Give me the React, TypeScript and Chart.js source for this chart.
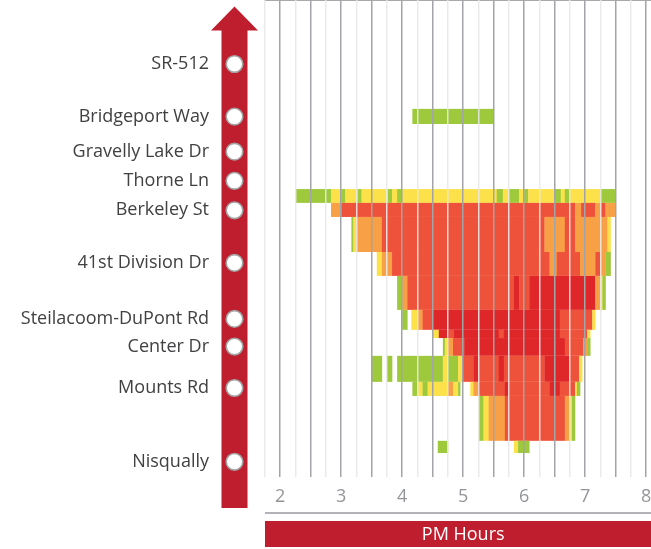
import React, { useEffect, useRef } from 'react';
import { Chart, registerables } from 'chart.js';

Chart.register(...registerables);

// Stations along the corridor (y position in miles from the top of the plot)
const stations = [
  'SR-512',
  'Bridgeport Way',
  'Gravelly Lake Dr',
  'Thorne Ln',
  'Berkeley St',
  '41st Division Dr',
  'Steilacoom-DuPont Rd',
  'Center Dr',
  'Mounts Rd',
  'Nisqually',
];
const stationMiles = [2.41, 4.39, 5.71, 6.81, 7.92, 9.9, 12.01, 13.05, 14.61, 17.39];

// Segment rows (miles), top and bottom edges
const rowTop = [4.1, 7.12, 7.64, 8.17, 9.49, 10.39, 11.67, 12.42, 12.73, 13.4, 14.38, 14.91, 16.6];
const rowBottom = [4.67, 7.64, 8.17, 9.49, 10.39, 11.67, 12.42, 12.73, 13.4, 14.38, 14.91, 16.6, 17.06];

// Congestion runs per row: [start minute after 2:00 PM, level]; level 0 = none
const row0 = [[130, 1], [210, 0]];
const row1 = [[15, 1], [50, 2], [60, 1], [64, 2], [76, 1], [80, 2], [106, 1], [110, 2], [115, 1], [120, 2], [213, 1], [219, 2], [225, 1], [235, 2], [240, 1], [244, 2], [270, 1], [276, 2], [280, 1], [285, 2], [315, 1], [330, 0]];
const row2 = [[50, 3], [60, 4], [290, 3], [296, 4], [310, 3], [315, 4], [320, 3], [330, 0]];
const row3 = [[70, 1], [72, 2], [75, 3], [100, 4], [260, 3], [280, 4], [290, 3], [322, 2], [325, 0]];
const row4 = [[95, 2], [100, 3], [110, 4], [265, 3], [272, 4], [295, 3], [310, 4], [315, 3], [320, 1], [325, 0]];
const row5 = [[115, 1], [120, 3], [125, 4], [230, 5], [235, 4], [245, 5], [310, 3], [315, 2], [317, 1], [320, 0]];
const row6 = [[120, 1], [125, 0], [129, 2], [135, 3], [140, 4], [150, 5], [275, 4], [307, 2], [310, 0]];
const row7 = [[150, 2], [156, 5], [166, 4], [171, 5], [215, 4], [220, 5], [275, 4], [302, 2], [305, 0]];
const row8 = [[160, 1], [162, 2], [165, 3], [170, 4], [181, 5], [280, 4], [298, 3], [302, 1], [305, 0]];
const row9 = [[90, 1], [100, 0], [105, 1], [110, 0], [115, 1], [160, 2], [165, 1], [175, 2], [179, 4], [190, 5], [195, 4], [215, 5], [220, 4], [260, 5], [285, 4], [294, 2], [297, 0]];
const row10 = [[130, 1], [135, 2], [140, 1], [145, 2], [165, 3], [170, 2], [175, 1], [177, 0], [187, 2], [190, 3], [195, 4], [221, 5], [225, 4], [265, 5], [275, 4], [290, 2], [292, 1], [295, 0]];
const row11 = [[195, 1], [200, 2], [205, 3], [221, 4], [280, 3], [285, 2], [287, 1], [290, 0]];
const row12 = [[155, 1], [165, 0], [230, 2], [234, 1], [245, 0]];
const rowRuns = [row0, row1, row2, row3, row4, row5, row6, row7, row8, row9, row10, row11, row12];

const levelColors = ['rgba(0,0,0,0)', '#9fc93c', '#fce14b', '#f8a045', '#ef523b', '#df2629'];

const START_HOUR = 2;
const xMin = 1.75;
const xMax = 8.08;
const gridStep = 0.25;
const hourLabels = ['2', '3', '4', '5', '6', '7', '8'];
const axisTitle = 'PM Hours';

const RED = '#be1e2d';
const FONT = "'Open Sans', 'DejaVu Sans', sans-serif";

export default function App() {
  const ref = useRef<HTMLCanvasElement | null>(null);

  useEffect(() => {
    if (!ref.current) return;

    const heatPlugin = {
      id: 'heatCells',
      beforeDatasetsDraw(chart: any) {
        const { ctx, scales } = chart;
        const xs = scales.x;
        const ys = scales.y;
        ctx.save();
        rowRuns.forEach((runs, r) => {
          const y0 = ys.getPixelForValue(rowTop[r]);
          const y1 = ys.getPixelForValue(rowBottom[r]);
          for (let i = 0; i < runs.length - 1; i++) {
            const level = runs[i][1];
            if (!level) continue;
            const x0 = xs.getPixelForValue(START_HOUR + runs[i][0] / 60);
            const x1 = xs.getPixelForValue(START_HOUR + runs[i + 1][0] / 60);
            ctx.fillStyle = levelColors[level];
            ctx.fillRect(x0, y0, x1 - x0 + 0.3, y1 - y0);
          }
        });
        ctx.restore();
      },
    };

    const decorPlugin = {
      id: 'decor',
      afterDraw(chart: any) {
        const { ctx, chartArea, scales } = chart;
        const ys = scales.y;
        const xs = scales.x;
        ctx.save();
        // arrow
        ctx.fillStyle = RED;
        ctx.fillRect(221.5, 29.5, 26, 478.5);
        ctx.beginPath();
        ctx.moveTo(211, 30.5);
        ctx.lineTo(234.5, 6.5);
        ctx.lineTo(258, 30.5);
        ctx.closePath();
        ctx.fill();
        // station circles
        stationMiles.forEach((m) => {
          const y = ys.getPixelForValue(m);
          ctx.beginPath();
          ctx.arc(234.5, y, 8.3, 0, Math.PI * 2);
          ctx.fillStyle = '#ffffff';
          ctx.fill();
          ctx.lineWidth = 1.6;
          ctx.strokeStyle = '#a3a3a3';
          ctx.stroke();
        });
        // lower rule and title bar
        ctx.fillStyle = '#b1b3b6';
        ctx.fillRect(chartArea.left, 512, chartArea.right - chartArea.left, 2);
        ctx.fillStyle = RED;
        ctx.fillRect(chartArea.left, 521, chartArea.right - chartArea.left, 26);
        ctx.fillStyle = '#ffffff';
        ctx.font = `18px ${FONT}`;
        ctx.textAlign = 'center';
        ctx.textBaseline = 'middle';
        ctx.fillText(axisTitle, xs.getPixelForValue(5), 534.5);
        ctx.restore();
      },
    };

    const isHalf = (v: number) => Math.abs(v * 2 - Math.round(v * 2)) < 1e-6;

    const chart = new Chart(ref.current, {
      type: 'scatter',
      data: { datasets: [] },
      options: {
        responsive: false,
        animation: false,
        devicePixelRatio: 1,
        layout: { padding: 0 },
        plugins: { legend: { display: false }, tooltip: { enabled: false } },
        scales: {
          x: {
            type: 'linear',
            min: xMin,
            max: xMax,
            afterBuildTicks: (s: any) => {
              const t = [];
              for (let v = xMin; v <= 8 + 1e-6; v += gridStep) t.push({ value: Math.round(v * 100) / 100 });
              s.ticks = t;
            },
            afterFit: (s: any) => {
              s.height = 71;
              s.paddingLeft = 0;
              s.paddingRight = 0;
            },
            grid: {
              z: 1,
              drawTicks: false,
              color: (c: any) => (c.tick && isHalf(c.tick.value) ? '#a2a4a7' : 'rgba(232,232,233,0.9)'),
              lineWidth: 1.5,
            },
            border: { display: true, color: '#a7a9ac', width: 2 },
            ticks: {
              autoSkip: false,
              maxRotation: 0,
              padding: 8,
              color: '#939598',
              font: { family: FONT, size: 18 },
              callback: (v: any) => {
                const i = hourLabels.indexOf(String(v));
                return Number.isInteger(v) && i >= 0 ? hourLabels[i] : '';
              },
            },
          },
          y: {
            type: 'linear',
            reverse: true,
            min: 0,
            max: 18,
            afterBuildTicks: (s: any) => {
              s.ticks = stationMiles.map((v) => ({ value: v }));
            },
            afterFit: (s: any) => {
              s.width = 265;
              s.paddingTop = 0;
              s.paddingBottom = 0;
            },
            grid: { display: false, drawTicks: false },
            border: { display: false },
            ticks: {
              autoSkip: false,
              padding: 56,
              color: '#414042',
              font: { family: FONT, size: 18 },
              callback: (_v: any, i: number) => stations[i],
            },
          },
        },
      },
      plugins: [heatPlugin, decorPlugin],
    } as any);

    return () => chart.destroy();
  }, []);

  return (
    <div style={{ position: 'absolute', left: 0, top: 0, width: 651, height: 549 }}>
      <canvas ref={ref} width={651} height={549} style={{ display: 'block' }} />
    </div>
  );
}
